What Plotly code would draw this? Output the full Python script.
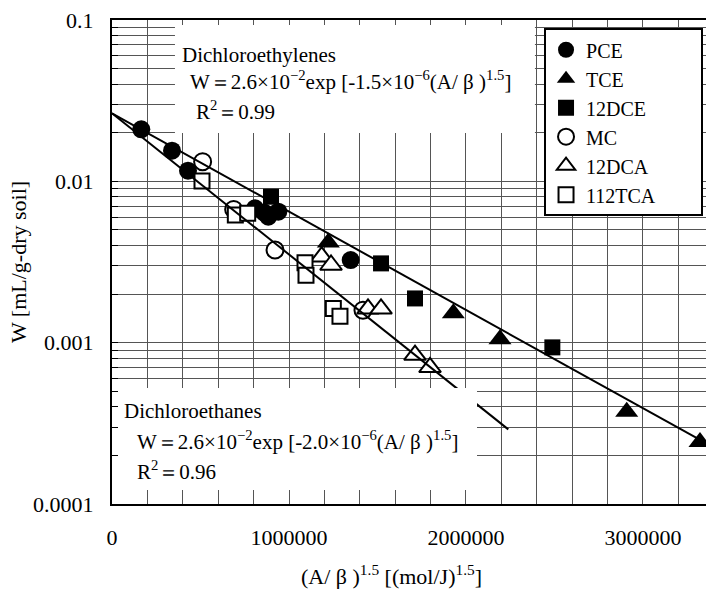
import plotly.graph_objects as go

# ---------------- data ----------------
pce_x = [165500, 339000, 429400, 808000, 860000, 883200, 939800, 1348500]
pce_y = [0.0210, 0.01548, 0.01164, 0.00680, 0.00640, 0.00604, 0.00648, 0.00325]

tce_x = [1222300, 1928600, 2192000, 2908000, 3322000]
tce_y = [0.00417, 0.00152, 0.00105, 0.000373, 0.000242]

dce12_x = [898400, 1520000, 1712000, 2487900]
dce12_y = [0.00803, 0.00310, 0.00188, 0.000935]

mc_x = [512000, 687400, 921000, 1418000]
mc_y = [0.01324, 0.00670, 0.00375, 0.00159]

dca12_x = [1184600, 1237400, 1446400, 1519900, 1712000, 1796700]
dca12_y = [0.00341, 0.00303, 0.00162, 0.00162, 0.000838, 0.000703]

tca112_x = [508500, 696800, 766600, 1090500, 1096000, 1250500, 1288000]
tca112_y = [0.01004, 0.00618, 0.00633, 0.00313, 0.00262, 0.00163, 0.00146]

# regression lines (end points as drawn)
fit_ethylenes_x = [0, 3356000]
fit_ethylenes_y = [0.0264, 0.000238]
fit_ethanes_x = [0, 2239000]
fit_ethanes_y = [0.0264, 0.000290]

x_tick_vals = list(range(0, 3400000, 200000))
x_tick_text = [str(v) if v % 1000000 == 0 else "" for v in x_tick_vals]
y_decades = {1e-4: "0.0001", 1e-3: "0.001", 1e-2: "0.01", 1e-1: "0.1"}
y_tick_vals = [m * 10.0 ** e for e in (-4, -3, -2) for m in range(1, 10)] + [0.1]
y_tick_text = []
for v in y_tick_vals:
    lab = ""
    for d, t in y_decades.items():
        if abs(v - d) < d * 1e-6:
            lab = t
    y_tick_text.append(lab)

FONT = "Liberation Serif"
GRID = "#555555"
NB = "\u00a0"

fig = go.Figure()

def add_series(name, xs, ys, symbol, filled, size):
    fig.add_trace(go.Scatter(
        x=xs, y=ys, mode="markers", name=name,
        marker=dict(symbol=symbol, size=size,
                    color="black" if filled else "white",
                    line=dict(color="black", width=0 if filled else 2)),
    ))

add_series("PCE", pce_x, pce_y, "circle", True, 18)
add_series("TCE", tce_x, tce_y, "triangle-up", True, 20)
add_series("12DCE", dce12_x, dce12_y, "square", True, 16)
add_series("MC", mc_x, mc_y, "circle", False, 17)
add_series("12DCA", dca12_x, dca12_y, "triangle-up", False, 19)
add_series("112TCA" + NB * 8, tca112_x, tca112_y, "square", False, 15)

for xs, ys in ((fit_ethylenes_x, fit_ethylenes_y), (fit_ethanes_x, fit_ethanes_y)):
    fig.add_trace(go.Scatter(x=xs, y=ys, mode="lines", showlegend=False,
                             line=dict(color="black", width=2)))

# white boxes behind the equations (paper coordinates)
fig.add_shape(type="rect", xref="paper", yref="paper", x0=0.106, x1=0.712, y0=0.7665, y1=0.9897,
              fillcolor="white", line=dict(width=0), layer="above")
fig.add_shape(type="rect", xref="paper", yref="paper", x0=0.0101, x1=0.6145, y0=0.0289, y1=0.2397,
              fillcolor="white", line=dict(width=0), layer="above")

ann_font = dict(family=FONT, size=21, color="black")
eq1 = "W＝2.6×10<sup>−2</sup>exp [-1.5×10<sup>−6</sup>(A/ β )<sup>1.5</sup>]"
eq2 = "W＝2.6×10<sup>−2</sup>exp [-2.0×10<sup>−6</sup>(A/ β )<sup>1.5</sup>]"
annots = [
    ("Dichloroethylenes", 0.1145, 0.9277),
    (eq1, 0.128, 0.874),
    ("R<sup>2</sup>＝0.99", 0.138, 0.812),
    ("Dichloroethanes", 0.0168, 0.192),
    (eq2, 0.0387, 0.132),
    ("R<sup>2</sup>＝0.96", 0.0387, 0.069),
]
for txt, xp, yp in annots:
    fig.add_annotation(text=txt, xref="paper", yref="paper", x=xp, y=yp,
                       xanchor="left", yanchor="middle", showarrow=False, font=ann_font)

fig.add_annotation(text="(A/ β )<sup>1.5</sup> [(mol/J)<sup>1.5</sup>]", xref="paper", yref="paper",
                   x=0.471, y=-0.146, xanchor="center", yanchor="middle", showarrow=False,
                   font=dict(family=FONT, size=22, color="black"))

fig.update_layout(
    width=706, height=589,
    margin=dict(l=112, r=0, t=20, b=85),
    paper_bgcolor="white", plot_bgcolor="white",
    font=dict(family=FONT, size=22, color="black"),
    showlegend=True,
    legend=dict(x=0.995, xanchor="right", y=0.983, yanchor="top",
                bgcolor="white", bordercolor="black", borderwidth=2,
                font=dict(family=FONT, size=20, color="black"),
                itemsizing="trace"),
)
fig.update_xaxes(
    range=[0, 3356000], tickmode="array", tickvals=x_tick_vals, ticktext=x_tick_text,
    showgrid=True, gridcolor=GRID, gridwidth=1, zeroline=False,
    showline=True, linecolor="black", linewidth=2, mirror=True,
    ticks="", ticklabelstandoff=13,
    tickfont=dict(family=FONT, size=22, color="black"),
)
fig.update_yaxes(
    type="log", range=[-4, -1], tickmode="array", tickvals=y_tick_vals, ticktext=y_tick_text,
    showgrid=True, gridcolor=GRID, gridwidth=1, zeroline=False,
    showline=True, linecolor="black", linewidth=2, mirror=False,
    ticks="inside", ticklen=6, tickcolor="black", ticklabelstandoff=12,
    tickfont=dict(family=FONT, size=22, color="black"),
    title=dict(text="W [mL/g-dry soil]", font=dict(family=FONT, size=22, color="black"), standoff=0),
)

fig.write_html("out.html")
